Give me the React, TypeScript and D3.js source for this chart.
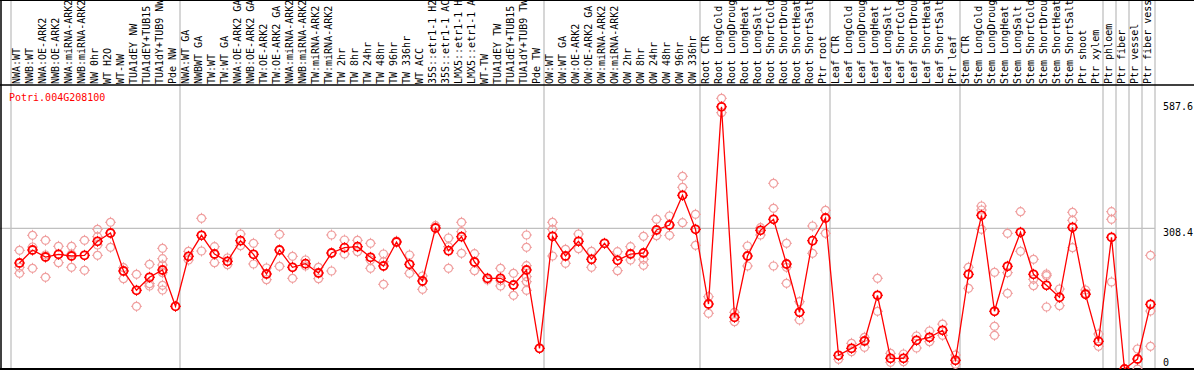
import React, { useEffect } from 'react';
import * as d3 from 'd3';

// sample names, in column order
const samples = [
  'NWA:WT', 'NWB:WT', 'NWA:OE-ARK2', 'NWB:OE-ARK2', 'NWA:miRNA-ARK2', 'NWB:miRNA-ARK2', 'NW 0hr', 'WT H2O', 'WT-NW',
  'TUA1dEY NW', 'TUA1dEY+TUB15 NW', 'TUA1dY+TUB9 NW', 'Pde NW',
  'NWA:WT GA', 'NWBWT GA', 'TW:WT', 'TW:WT GA', 'NWA:OE-ARK2 GA', 'NWB:OE-ARK2 GA', 'TW:OE-ARK2', 'TW:OE-ARK2 GA',
  'NWA:miRNA-ARK2 GA', 'NWB:miRNA-ARK2 GA', 'TW:miRNA-ARK2', 'TW:miRNA-ARK2 GA', 'TW 2hr', 'TW 8hr', 'TW 24hr', 'TW 48hr',
  'TW 96hr', 'TW 336hr', 'WT ACC', '35S::etr1-1 H2O', '35S::etr1-1 ACC', 'LMX5::etr1-1 H2O', 'LMX5::etr1-1 ACC', 'WT-TW',
  'TUA1dEY TW', 'TUA1dEY+TUB15 TW', 'TUA1dY+TUB9 TW', 'Pde TW',
  'OW:WT', 'OW:WT GA', 'OW:OE-ARK2', 'OW:OE-ARK2 GA', 'OW:miRNA-ARK2', 'OW:miRNA-ARK2 GA', 'OW 2hr', 'OW 8hr', 'OW 24hr',
  'OW 48hr', 'OW 96hr', 'OW 336hr',
  'Root CTR', 'Root LongCold', 'Root LongDrought', 'Root LongHeat', 'Root LongSalt', 'Root ShortCold', 'Root ShortDrought',
  'Root ShortHeat', 'Root ShortSalt', 'Ptr root',
  'Leaf CTR', 'Leaf LongCold', 'Leaf LongDrought', 'Leaf LongHeat', 'Leaf LongSalt', 'Leaf ShortCold', 'Leaf ShortDrought',
  'Leaf ShortHeat', 'Leaf ShortSalt', 'Ptr leaf',
  'Stem CTR', 'Stem LongCold', 'Stem LongDrought', 'Stem LongHeat', 'Stem LongSalt', 'Stem ShortCold', 'Stem ShortDrought',
  'Stem ShortHeat', 'Stem ShortSalt', 'Ptr shoot', 'Ptr xylem',
  'Ptr phloem', 'Ptr fiber', 'Ptr vessel', 'Ptr fiber vessel',
];

// mean expression per sample
const means = [
  228.6, 258.5, 242.4, 248.6, 244.7, 246.3, 278.5, 297.6, 210.3, 165.9, 195.8, 212.6, 129.1,
  244.0, 292.3, 249.3, 232.6, 279.9, 248.6, 203.4, 258.5, 218.8, 227.0, 205.7, 251.6, 263.8, 266.1, 241.7, 221.8,
  276.9, 225.7, 187.3, 309.1, 256.9, 289.1, 230.9, 193.5, 193.5, 178.1, 212.6, 32.6,
  290.0, 244.7, 278.5, 237.2, 273.9, 234.8, 249.3, 251.6, 304.5, 316.0, 384.2, 306.1,
  134.4, 587.6, 103.9, 244.7, 303.8, 329.1, 226.3, 115.4, 279.9, 332.1,
  16.5, 32.6, 49.4, 154.4, 9.7, 9.7, 51.0, 57.9, 74.0, 5.1,
  202.7, 338.3, 117.7, 221.1, 299.2, 202.7, 177.4, 149.8, 310.7, 156.7, 48.7,
  287.7, -14.9, 8.0, 133.7,
];

// individual replicates per sample
const replicates = [
  [257.8, 218.8, 205.0], [292.3, 265.4, 216.5], [280.8, 247.0, 195.8], [267.0, 229.3], [267.0, 249.3, 218.8],
  [280.8, 211.9], [306.1, 289.1, 270.0, 246.3], [322.2, 264.7], [217.9, 192.6], [202.7, 129.1],
  [225.7, 181.1, 175.8], [262.4, 238.5, 224.1, 206.4, 177.4, 166.6], [],
  [255.5, 235.5], [331.4, 256.2], [266.1, 229.3], [240.1, 224.7], [295.3, 268.4], [273.9, 226.4], [217.2, 190.3],
  [294.6, 221.1], [244.0, 193.5], [235.5, 221.8], [218.8, 192.6], [293.0, 210.3], [281.5, 249.3], [280.8, 254.6],
  [273.9, 235.5, 216.5], [249.3, 231.6, 179.7], [279.0], [247.0, 205.0], [198.8, 168.2], [314.4],
  [286.1, 266.1, 216.5], [322.2, 300.6, 250.9], [250.0, 211.0], [189.6], [216.5, 188.0, 175.8], [205.0, 154.4],
  [293.0, 264.7, 222.4, 197.2, 185.7, 165.9], [],
  [322.2, 306.1, 244.7], [260.1, 228.0], [295.3, 261.5], [255.5, 218.8], [], [254.6, 211.0], [266.1, 235.5],
  [290.0, 237.2, 223.4], [329.1, 291.4], [336.7, 292.3], [427.9, 402.6, 321.3], [340.6, 269.3],
  [151.2, 113.1], [607.1, 574.0], [115.4, 93.8], [267.7, 221.8], [309.8, 293.0], [411.8, 354.4, 221.8],
  [273.9, 218.8, 182.0], [139.7, 97.7], [313.7, 250.9], [349.8, 296.9],
  [7.4], [44.1, 24.8], [57.9, 34.9], [193.5, 117.7], [21.1, 0.5], [19.5, 1.8], [60.9, 33.3], [72.4, 47.8],
  [88.2, 62.5], [17.2, -4.1],
  [218.8, 170.5], [359.6, 350.4, 306.1], [207.3, 83.2, 62.5], [296.9, 206.4, 159.0], [346.5, 255.5],
  [237.2, 191.2, 176.5], [203.4, 199.5, 127.5], [168.9, 130.5], [345.2, 326.8, 263.8], [166.6, 159.0],
  [65.5, 37.2], [346.5, 329.1, 185.0], [], [31.0, -15.0], [246.3, 118.3, 37.2],
];

// a grey separator is drawn after each of these column counts
const groupBreaks = [0, 13, 41, 53, 63, 73, 84, 85, 86, 87, 88];
const yTicks = [0, 308.4, 587.6];
const geneId = 'Potri.004G208100';

const W = 1194;
const H = 370;
const headerY = 85;
const bottomY = 369;
const font = '"DejaVu Sans Mono", monospace';

const Marker = ({ cx, cy, color, sw }: { cx: number; cy: number; color: string; sw: number }) => (
  <g transform={`translate(${cx},${cy})`} stroke={color} fill="none" strokeWidth={sw}>
    <circle r={4} />
    <path d="M0,-5.5V-3.5M0,3.5V5.5M-5.5,0H-3.5M3.5,0H5.5" strokeWidth={1} />
  </g>
);

const App = () => {
  useEffect(() => {
    document.body.style.margin = '0';
  }, []);

  const x = d3.scaleBand<number>()
    .domain(d3.range(samples.length))
    .range([11, 11 + 13 * samples.length]);
  const px = (i: number) => (x(i) as number) + 8.5;
  const plotRight = 11 + 13 * samples.length;

  const y = d3.scaleLinear().domain([0, 587.6]).range([362.5, 106.8]);

  const line = d3.line<number>()
    .x((d, i) => px(i))
    .y((d) => y(d));

  return (
    <svg width={W} height={H} style={{ display: 'block', background: '#fff' }}>
      <defs>
        <clipPath id="plot">
          <rect x={2} y={headerY + 1} width={W} height={bottomY - headerY - 1} />
        </clipPath>
      </defs>

      {/* separators */}
      {groupBreaks.map((k) => (
        <line key={k} x1={11 + 13 * k} x2={11 + 13 * k} y1={0} y2={bottomY} stroke="#c0c0c0" strokeWidth={1.3} />
      ))}
      <line x1={0} x2={plotRight} y1={y(308.4)} y2={y(308.4)} stroke="#c0c0c0" strokeWidth={1.3} />

      {/* sample names */}
      <g fontFamily={font} fontSize={10} fill="#000">
        {samples.map((s, i) => (
          <text key={i} transform={`translate(${px(i)},${headerY - 1}) rotate(-90)`}>{s}</text>
        ))}
      </g>

      {/* frame */}
      <line x1={0} x2={W} y1={0.5} y2={0.5} stroke="#000" />
      <line x1={0} x2={W} y1={headerY} y2={headerY} stroke="#000" strokeWidth={1.5} />
      <line x1={0} x2={W} y1={bottomY} y2={bottomY} stroke="#000" strokeWidth={2} />
      <line x1={1} x2={1} y1={0} y2={H} stroke="#000" strokeWidth={1.5} />

      <text x={9} y={101} fontFamily={font} fontSize={10} fill="#ff0000">{geneId}</text>

      {/* y labels (the middle one sits under its grid line) */}
      <g fontFamily={font} fontSize={10} fill="#000">
        {yTicks.map((t, i) => (
          <text key={t} x={1163} y={y(t) + (i === 1 ? 4 : 0)} dominantBaseline="central">{t}</text>
        ))}
      </g>

      <g clipPath="url(#plot)">
        {replicates.map((reps, i) =>
          reps.map((v, j) => <Marker key={`${i}-${j}`} cx={px(i)} cy={y(v)} color="#f0a0a0" sw={1.2} />)
        )}
        <path d={line(means) as string} fill="none" stroke="#ff0000" strokeWidth={1.3} />
        {means.map((v, i) => (
          <Marker key={i} cx={px(i)} cy={y(v)} color="#ff0000" sw={1.8} />
        ))}
      </g>
    </svg>
  );
};

export default App;
